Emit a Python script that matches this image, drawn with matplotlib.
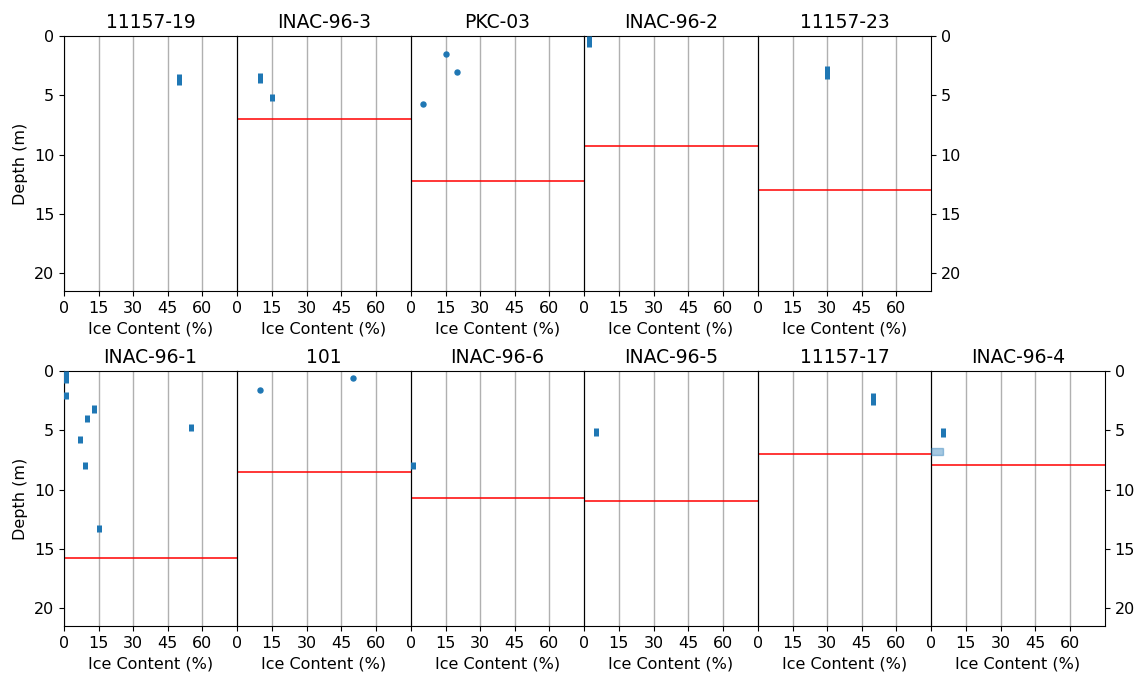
import matplotlib
matplotlib.use("Agg")
import matplotlib.pyplot as plt
from matplotlib.patches import Rectangle

# ---- data ----
top_sites = ["11157-19", "INAC-96-3", "PKC-03", "INAC-96-2", "11157-23"]
bottom_sites = ["INAC-96-1", "101", "INAC-96-6", "INAC-96-5", "11157-17", "INAC-96-4"]

# interval samples: site -> list of (ice content %, top depth, bottom depth)
intervals = {
    "11157-19": [(50, 3.2, 4.1)],
    "INAC-96-3": [(10, 3.1, 4.0), (15, 4.9, 5.5)],
    "PKC-03": [],
    "INAC-96-2": [(2, 0.0, 0.9)],
    "11157-23": [(30, 2.5, 3.6)],
    "INAC-96-1": [(1, 0.0, 1.0), (1, 1.75, 2.35), (13, 2.9, 3.5), (10, 3.7, 4.3),
                  (7, 5.45, 6.1), (9, 7.65, 8.3), (55, 4.5, 5.1), (15, 12.95, 13.55)],
    "101": [],
    "INAC-96-6": [(1, 7.65, 8.3)],
    "INAC-96-5": [(5, 4.8, 5.5)],
    "11157-17": [(50, 1.85, 2.9)],
    "INAC-96-4": [(5, 4.8, 5.55)],
}
# point samples: site -> list of (ice content %, depth)
points = {
    "PKC-03": [(15, 1.5), (20, 3.0), (5, 5.7)],
    "101": [(10, 1.6), (50, 0.6)],
}
# ranges of ice content (shaded): site -> list of (min %, max %, top, bottom)
ranges = {
    "INAC-96-4": [(0, 5, 6.5, 7.1)],
}
# red horizontal line depth per site
line_depth = {
    "INAC-96-3": 7.0, "PKC-03": 12.2, "INAC-96-2": 9.3, "11157-23": 13.0,
    "INAC-96-1": 15.8, "101": 8.5, "INAC-96-6": 10.7, "INAC-96-5": 11.0,
    "11157-17": 7.0, "INAC-96-4": 7.9,
}
xticks = [0, 15, 30, 45, 60]
yticks = [0, 5, 10, 15, 20]

W, H = 1140, 677
fig = plt.figure(figsize=(W / 100, H / 100), dpi=100)
plt.rcParams["font.size"] = 11

edges_px = [64, 237, 411, 584, 758, 931, 1105]
rows = [(top_sites, 36, 291), (bottom_sites, 371, 626)]
blue = "#1f77b4"

for sites, ytop, ybot in rows:
    n = len(sites)
    for i, site in enumerate(sites):
        x0, x1 = edges_px[i], edges_px[i + 1]
        ax = fig.add_axes([x0 / W, 1 - ybot / H, (x1 - x0) / W, (ybot - ytop) / H])
        ax.set_xlim(0, 75)
        ax.set_ylim(21.5, 0)
        ax.set_xticks(xticks)
        ax.set_yticks(yticks)
        ax.grid(axis="x", color="#b0b0b0", lw=1.0)
        ax.set_axisbelow(True)
        ax.tick_params(labelsize=11.5)
        ax.set_title(site, fontsize=13.5)
        ax.set_xlabel("Ice Content (%)", fontsize=11.5)
        for v, t, b in intervals.get(site, []):
            ax.vlines(v, t, b, colors=blue, lw=3.6, zorder=3)
        for v, d in points.get(site, []):
            ax.plot(v, d, "o", color=blue, ms=3.6, zorder=3)
        for lo, hi, t, b in ranges.get(site, []):
            ax.add_patch(Rectangle((lo, t), hi - lo, b - t, facecolor=blue,
                                   alpha=0.4, edgecolor=blue, lw=1, zorder=3,
                                   clip_on=True))
        if site in line_depth:
            ax.axhline(line_depth[site], color="red", lw=1.1, zorder=2)
        if i == 0:
            ax.set_ylabel("Depth (m)", fontsize=11.5)
        elif i == n - 1:
            ax.yaxis.tick_right()
        else:
            ax.tick_params(axis="y", left=False, labelleft=False)

fig.savefig("out.png", dpi=100)
